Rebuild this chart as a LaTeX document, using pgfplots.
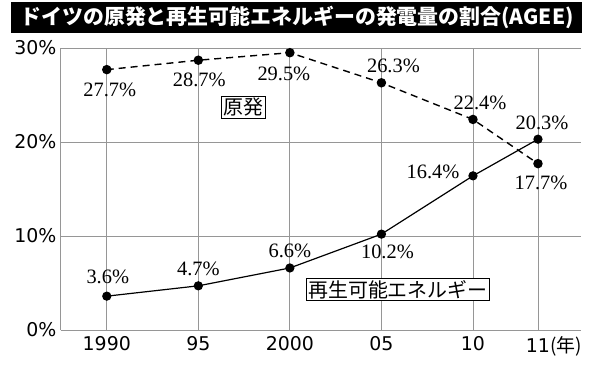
\documentclass[border=0pt]{standalone}
\usepackage{pgfplots}
\pgfplotsset{compat=1.18}
\usepackage{fontspec}
\newfontfamily\cjk{Noto Sans CJK JP}
\newfontfamily\sans{DejaVu Sans}
\newfontfamily\lserif{Liberation Serif}
\definecolor{gridgray}{RGB}{150,150,150}
\begin{document}
\begin{tikzpicture}[x=1bp,y=1bp]
\fill[white] (-61,-50) rectangle (539,330);
\fill[black] (-50,297) rectangle (521,328);
\node[text=white,font=\cjk\bfseries\fontsize{21}{21}\selectfont,inner sep=0pt] at (236,312.5) {ドイツの原発と再生可能エネルギーの発電量の割合(AGEE)};
\begin{axis}[
  at={(0,0)}, anchor=south west,
  scale only axis, width=520bp, height=282bp,
  xmin=-0.5, xmax=5.18, ymin=0, ymax=30,
  axis lines*=left,
  axis line style={gridgray, line width=1bp},
  xtick={0,1,2,3,4,4.71},
  xticklabels={1990,95,2000,05,10,{11\rlap{\cjk{(年)}}}},
  ytick={0,10,20,30},
  yticklabels={0\%,10\%,20\%,30\%},
  major tick length=0pt,
  tick style={draw=none},
  grid=major,
  major grid style={gridgray, line width=0.9bp},
  tick label style={font=\sans\fontsize{19}{19}\selectfont},
  /pgf/number format/assume math mode=true,
  xticklabel style={yshift=-3bp},
  yticklabel style={xshift=-1bp},
  clip=false,
  nodes near coords,
  point meta=explicit symbolic,
  every node near coord/.append style={font=\lserif\fontsize{20.5}{20.5}\selectfont, inner sep=0pt},
]
\draw[gridgray, line width=1bp] (rel axis cs:0,1) -- (rel axis cs:1,1);
% nuclear
\addplot[black, line width=1.4bp, dash pattern=on 7bp off 5bp,
  mark=*, mark size=4bp, mark options={solid},
  visualization depends on={value \thisrow{dx} \as \dx},
  visualization depends on={value \thisrow{dy} \as \dy},
  nodes near coords style={xshift=\dx bp, yshift=\dy bp, anchor=center}]
  table[x=x, y=y, meta=lab] {
x y lab dx dy
0 27.7 27.7\% 3 -20
1 28.7 28.7\% 1 -20
2 29.5 29.5\% -6 -21
3 26.3 26.3\% 12 17
4 22.4 22.4\% 7 17
4.71 17.7 17.7\% 3 -19
};
% renewable
\addplot[black, line width=1.2bp,
  mark=*, mark size=4bp,
  visualization depends on={value \thisrow{dx} \as \dx},
  visualization depends on={value \thisrow{dy} \as \dy},
  nodes near coords style={xshift=\dx bp, yshift=\dy bp, anchor=center}]
  table[x=x, y=y, meta=lab] {
x y lab dx dy
0 3.6 3.6\% 1 19
1 4.7 4.7\% 0 17
2 6.6 6.6\% 0 17
3 10.2 10.2\% 6 -18
4 16.4 16.4\% -40 4
4.71 20.3 20.3\% 4 16
};
\node[draw=black, fill=white, line width=0.8bp, inner sep=2bp, font=\cjk\fontsize{20}{20}\selectfont] at (axis cs:1.49,23.7) {原発};
\node[draw=black, fill=white, line width=0.8bp, inner sep=2bp, font=\cjk\fontsize{20}{20}\selectfont] at (axis cs:3.18,4.3) {再生可能エネルギー};
\end{axis}
\end{tikzpicture}
\end{document}
